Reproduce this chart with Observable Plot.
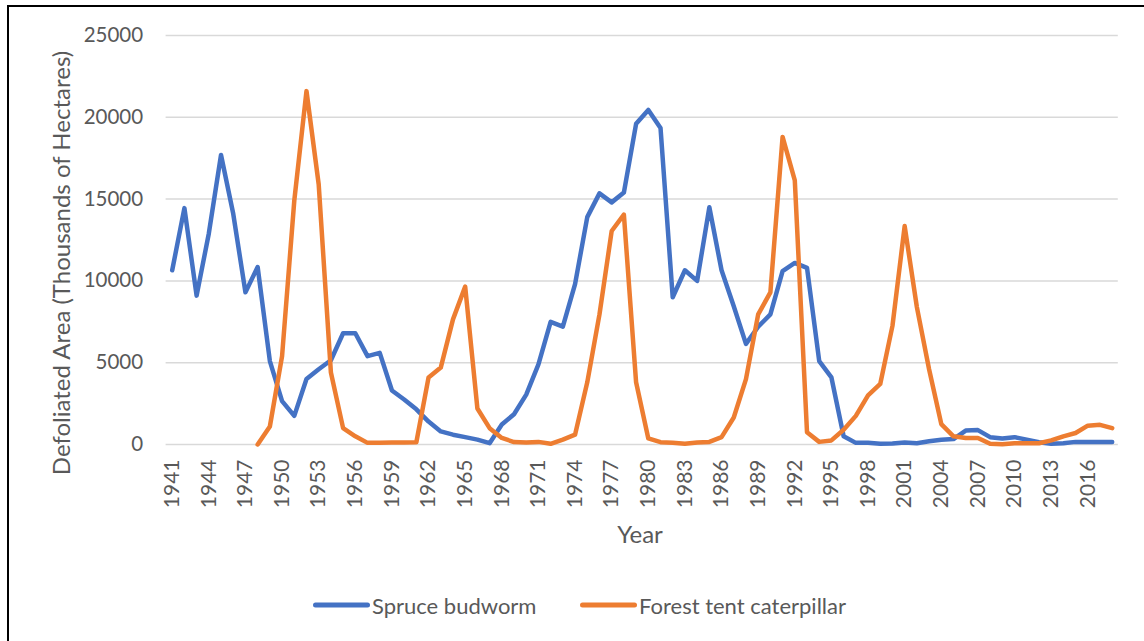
<!DOCTYPE html>
<html>
<head>
<meta charset="utf-8">
<script src="https://cdn.jsdelivr.net/npm/d3@7"></script>
<script src="https://cdn.jsdelivr.net/npm/@observablehq/plot@0.6"></script>
<style>
  html, body { margin: 0; padding: 0; background: #fff; }
  #wrap { position: relative; width: 1144px; height: 641px; overflow: hidden; font-family: Lato, "Open Sans", sans-serif; color: #595959; }
  #frame { position: absolute; left: 7px; top: 5px; width: 1200px; height: 700px; border-top: 2.5px solid #000; border-left: 2.5px solid #000; }
  #chart { position: absolute; left: 0; top: 0; }
  #ytitle { position: absolute; left: 60px; top: 263px; transform: translate(-50%, -50%) rotate(-90deg); white-space: nowrap; font-size: 24px; }
  #xtitle { position: absolute; left: 640px; top: 533px; transform: translate(-50%, -50%); white-space: nowrap; font-size: 24px; }
  .leg { position: absolute; top: 605px; transform: translateY(-50%); display: flex; align-items: center; font-size: 22px; white-space: nowrap; }
  .sw { width: 57px; height: 5px; border-radius: 3px; margin-right: 2px; }
</style>
</head>
<body>
<div id="wrap">
  <div id="frame"></div>
  <div id="chart"></div>
  <div id="ytitle">Defoliated Area (Thousands of Hectares)</div>
  <div id="xtitle">Year</div>
  <div id="legend"></div>
</div>
<script>
const years = [1941,1942,1943,1944,1945,1946,1947,1948,1949,1950,
  1951,1952,1953,1954,1955,1956,1957,1958,1959,1960,
  1961,1962,1963,1964,1965,1966,1967,1968,1969,1970,
  1971,1972,1973,1974,1975,1976,1977,1978,1979,1980,
  1981,1982,1983,1984,1985,1986,1987,1988,1989,1990,
  1991,1992,1993,1994,1995,1996,1997,1998,1999,2000,
  2001,2002,2003,2004,2005,2006,2007,2008,2009,2010,
  2011,2012,2013,2014,2015,2016,2017,2018];

const spruceBudworm = [10650,14450,9100,12900,17700,14100,9300,10850,5100,2650,
  1750,4000,4600,5150,6800,6800,5400,5600,3300,2750,
  2150,1400,800,600,450,300,80,1220,1850,3050,
  4900,7500,7200,9800,13900,15350,14800,15400,19600,20450,
  19350,9000,10650,10000,14500,10650,8450,6150,7200,7950,
  10600,11100,10800,5100,4100,500,100,100,50,60,
  120,80,200,290,330,850,880,450,370,450,
  300,140,40,80,160,160,160,160];

const forestTentCaterpillar = [null,null,null,null,null,null,null,0,1100,5400,
  14900,21600,15900,4400,1000,500,100,100,120,120,
  140,4100,4700,7650,9650,2200,1000,400,150,120,
  160,40,300,600,3800,7950,13050,14050,3800,370,
  140,100,40,120,160,450,1650,4000,7950,9300,
  18800,16150,750,160,250,900,1750,3000,3700,7250,
  13350,8400,4600,1250,500,400,400,40,20,80,
  80,80,250,500,700,1150,1200,1000];

const seriesNames = ["Spruce budworm", "Forest tent caterpillar"];
const seriesColors = ["#4472C4", "#ED7D31"];
const xTickYears = [1941,1944,1947,1950,1953,1956,1959,1962,1965,1968,1971,1974,1977,1980,1983,1986,1989,1992,1995,1998,2001,2004,2007,2010,2013,2016];
const yTicks = [0,5000,10000,15000,20000,25000];

const rows = [];
[spruceBudworm, forestTentCaterpillar].forEach((vals, i) => {
  years.forEach((yr, j) => {
    if (vals[j] != null) rows.push({series: seriesNames[i], year: yr, value: vals[j]});
  });
});

const chart = Plot.plot({
  width: 1144,
  height: 560,
  marginLeft: 165.6,
  marginRight: 26.2,
  marginTop: 35,
  marginBottom: 116,
  style: {fontFamily: "Lato, 'Open Sans', sans-serif", color: "#595959", background: "transparent", overflow: "visible"},
  x: {type: "linear", domain: [years[0] - 0.5, years[years.length - 1] + 0.5]},
  y: {domain: [0, 25000]},
  color: {domain: seriesNames, range: seriesColors},
  marks: [
    Plot.ruleY(yTicks, {stroke: "#d9d9d9", strokeWidth: 1.5}),
    Plot.axisY(yTicks, {tickSize: 0, tickPadding: 23, fontSize: 20.5, tickFormat: d => String(d), label: null}),
    Plot.axisX(xTickYears, {tickSize: 0, tickPadding: 15, tickRotate: -90, fontSize: 21, tickFormat: d => String(d), label: null}),
    Plot.line(rows, {x: "year", y: "value", z: "series", stroke: "series", strokeWidth: 4.5, strokeLinejoin: "round", strokeLinecap: "round"})
  ]
});
document.getElementById("chart").appendChild(chart);

const legend = document.getElementById("legend");
const legLefts = [313, 580];
seriesNames.forEach((name, i) => {
  const item = document.createElement("div");
  item.className = "leg";
  item.style.left = legLefts[i] + "px";
  const sw = document.createElement("div");
  sw.className = "sw";
  sw.style.background = seriesColors[i];
  const tx = document.createElement("span");
  tx.textContent = name;
  item.appendChild(sw);
  item.appendChild(tx);
  legend.appendChild(item);
});
</script>
</body>
</html>
